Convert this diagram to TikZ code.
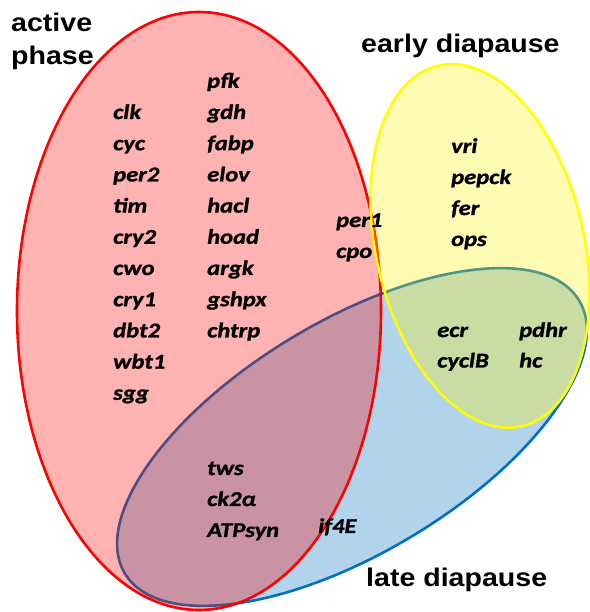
\documentclass[tikz,border=0pt]{standalone}
\usepackage{fontspec}
\newfontfamily\genefont{Carlito}[FakeStretch=1.17,FakeBold=1.2]
\newfontfamily\titlefont{Liberation Sans}[FakeStretch=1.12]
\definecolor{vredline}{RGB}{255,0,0}
\definecolor{vblueline}{RGB}{0,112,192}
\definecolor{vbluefill}{RGB}{178,211,236}
\definecolor{vyellowline}{RGB}{255,255,0}
\tikzset{
  gene/.style={anchor=base west, inner sep=0pt, font=\genefont\fontsize{21}{24}\selectfont\bfseries\itshape},
  title/.style={anchor=base west, inner sep=0pt, font=\titlefont\fontsize{25.5}{30}\selectfont\bfseries},
  setline/.style={line width=2.6pt}
}
\begin{document}
\begin{tikzpicture}[x=1pt,y=1pt]
\useasboundingbox (0,0) rectangle (589,612);
% late diapause (blue)
\draw[setline, draw=vblueline, fill=vbluefill, shift={(352,175)}, rotate=31] (0,0) ellipse [x radius=265pt, y radius=116pt];
% active phase (red)
\draw[setline, draw=vredline, fill=red, fill opacity=0.3, shift={(199,301)}] (0,0) ellipse [x radius=182pt, y radius=299pt];
% early diapause (yellow)
\draw[setline, draw=vyellowline, fill=yellow, fill opacity=0.3, shift={(480,366)}, rotate=13] (0,0) ellipse [x radius=104pt, y radius=185pt];
% titles
\node[title] (t1) at (11,580) {active};
\node[title] (t2) at (11,547) {phase};
\node[title] (t3) at (361,559) {early diapause};
\node[title] (t4) at (366,25) {late diapause};
% genes
\foreach \t [count=\i] in {clk,cyc,per2,tim,cry2,cwo,cry1,dbt2,wbt1,sgg}
  \node[gene] (a\i) at (113,{612-119-(\i-1)*31.2}) {\t};
\foreach \t [count=\i] in {pfk,gdh,fabp,elov,hacl,hoad,argk,gshpx,chtrp}
  \node[gene] (b\i) at (207,{612-87.8-(\i-1)*31.2}) {\t};
\foreach \t [count=\i] in {per1,cpo}
  \node[gene] (c\i) at (336,{612-227-(\i-1)*31}) {\t};
\foreach \t [count=\i] in {vri,pepck,fer,ops}
  \node[gene] (d\i) at (451,{612-153-(\i-1)*31}) {\t};
\foreach \t [count=\i] in {ecr,cyclB}
  \node[gene] (e\i) at (437,{612-337-(\i-1)*30.5}) {\t};
\foreach \t [count=\i] in {pdhr,hc}
  \node[gene] (f\i) at (519,{612-337-(\i-1)*30.5}) {\t};
\foreach \t [count=\i] in {tws,ck2α,ATPsyn}
  \node[gene] (g\i) at (207,{612-475-(\i-1)*31}) {\t};
\node[gene] (h1) at (318,{612-533}) {if4E};
\end{tikzpicture}
\end{document}
